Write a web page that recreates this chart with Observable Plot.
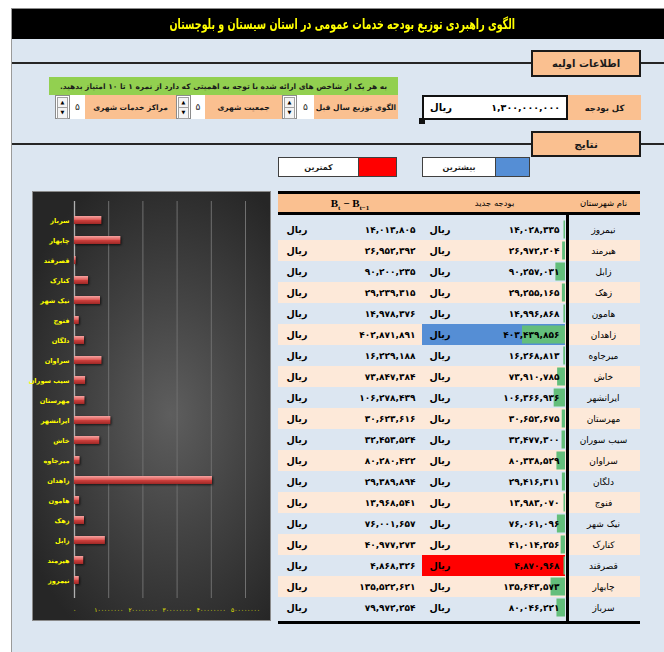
<!DOCTYPE html>
<html><head><meta charset="utf-8">
<script src="https://cdn.jsdelivr.net/npm/d3@7"></script>
<script src="https://cdn.jsdelivr.net/npm/@observablehq/plot@0.6"></script>
<style>
html,body{margin:0;padding:0;background:#fff;}
body{width:664px;height:652px;position:relative;overflow:hidden;font-family:"DejaVu Sans",sans-serif;}
.a{position:absolute;box-sizing:border-box;}
.rtl{direction:rtl;}
.peach{background:#fac090;}
.cell{display:flex;align-items:center;justify-content:center;font-size:8.5px;font-weight:bold;color:#1a1a1a;white-space:nowrap;}
.spin{background:#fff;border:1px solid #8c8c8c;}
.spin div{position:absolute;left:1px;right:1px;height:10px;border:1px solid #a0a0a0;font-size:5px;line-height:9px;text-align:center;color:#000;background:#f4f4f4;}
#chartbox svg g[aria-label^="x-axis"] text{font-size:6px;letter-spacing:-0.5px;fill:#e8e800;}
#chartbox svg g[aria-label^="y-axis"] text{font-size:6.6px;font-weight:bold;fill:#ffff00;}
</style></head><body>
<div class="a" style="left:11px;top:8px;width:653px;height:644px;background:#dce6f1;border-left:1px solid #9a9a9a;border-top:1px solid #8c8c8c;"></div>
<div class="a" style="left:12px;top:9px;width:652px;height:30px;background:#000;"></div>
<div class="a rtl" id="title" style="left:95px;top:9px;width:500px;height:30px;line-height:30px;text-align:center;color:#ffff00;font-weight:bold;font-size:14px;transform:scaleX(0.68);transform-origin:250px 50%;white-space:nowrap;"></div>

<div class="a" style="left:12px;top:62px;width:652px;height:2px;background:#262626;"></div>
<div class="a peach cell rtl" id="box1" style="left:531px;top:50px;width:110px;height:27px;border:2px solid #1a1a1a;font-size:10px;"></div>

<div class="a cell rtl" id="hint" style="left:49px;top:77px;width:349px;height:18px;background:#92d050;font-size:7.5px;"></div>
<div id="weights"></div>

<div class="a peach cell rtl" id="budgetLbl" style="left:568px;top:95px;width:73px;height:25px;"></div>
<div class="a" style="left:422px;top:95px;width:146px;height:25px;background:#fff;border:2.5px solid #111;"></div>
<div class="a rtl" id="rial0" style="left:430px;top:95px;height:25px;line-height:25px;font-size:10px;font-weight:bold;"></div>
<div class="a" id="budgetVal" style="left:450px;top:95px;width:110px;height:25px;line-height:25px;font-size:9.5px;font-weight:bold;text-align:right;"></div>
<div class="a" style="left:419px;top:118px;width:6px;height:6px;background:#111;"></div>

<div class="a" style="left:12px;top:143px;width:652px;height:2px;background:#262626;"></div>
<div class="a peach cell rtl" id="box2" style="left:531px;top:131px;width:110px;height:26px;border:2px solid #1a1a1a;font-size:10.5px;"></div>

<div class="a cell rtl" id="legMax" style="left:422px;top:157px;width:74px;height:20px;background:#fff;border:1px solid #404040;font-size:8px;"></div>
<div class="a" style="left:495px;top:157px;width:35px;height:20px;background:#558ed5;border:1px solid #404040;"></div>
<div class="a cell rtl" id="legMin" style="left:278px;top:157px;width:81px;height:20px;background:#fff;border:1px solid #404040;font-size:8px;"></div>
<div class="a" style="left:358px;top:157px;width:39px;height:20px;background:#ff0000;border:1px solid #404040;"></div>

<div class="a" id="chartbox" style="left:32px;top:191px;width:239px;height:430px;border:1px solid #8a8a8a;background:radial-gradient(ellipse 70% 60% at 58% 52%, #5e5e5e 0%, #444 45%, #262626 100%);"></div>

<div class="a peach" id="thead" style="left:278px;top:191px;width:362px;height:24px;border-top:3px solid #000;border-bottom:3px solid #000;"></div>
<div class="a" id="tbody" style="left:278px;top:215px;width:362px;height:406px;"></div>
<div class="a" style="left:566px;top:213px;width:3px;height:410px;background:#000;"></div>
<div class="a" style="left:278px;top:621px;width:362px;height:3px;background:#000;"></div>

<script>
// ---------- data ----------
const titleText = "الگوی راهبردی توزیع بودجه خدمات عمومی در استان سیستان و بلوچستان";
const sectionInput = "اطلاعات اولیه";
const sectionResults = "نتایج";
const hintText = "به هر یک از شاخص های ارائه شده با توجه به اهمیتی که دارد از نمره ۱ تا ۱۰ امتیاز بدهید.";
const budgetLabel = "کل بودجه";
const totalBudget = 1300000000;
const currency = "ریال";
const weightLabels = ["الگوی توزیع سال قبل", "جمعیت شهری", "مراکز خدمات شهری"];
const weightValues = [5, 5, 5];
const legendMax = "بیشترین";
const legendMin = "کمترین";
const headerNames = "نام شهرستان";
const headerBudget = "بودجه جدید";

const counties = ["نیمروز","هیرمند","زابل","زهک","هامون","زاهدان","میرجاوه","خاش","ایرانشهر","مهرستان","سیب سوران","سراوان","دلگان","فنوج","نیک شهر","کنارک","قصرقند","چابهار","سرباز"];
const newBudget = [14028335,26972204,90257031,29255165,14996868,403439856,16268813,73910785,106366936,30652675,32477300,80338529,29416311,13983070,76061096,41014256,4870968,135643573,80046221];
const budgetDiff = [14013805,26952392,90200235,29239315,14978376,402871891,16229188,73847384,106278439,30623616,32453524,80280422,29389894,13968541,76001657,40977273,4868326,135522621,79972254];
const chartTicks = [0,100000000,200000000,300000000,400000000,500000000];

// ---------- helpers ----------
const faDigits = "۰۱۲۳۴۵۶۷۸۹";
const fa = s => String(s).replace(/\d/g, d => faDigits[d]);
const fmt = v => fa(d3.format(",")(v));

// ---------- static texts ----------
document.getElementById("title").textContent = titleText;
document.getElementById("box1").textContent = sectionInput;
document.getElementById("box2").textContent = sectionResults;
document.getElementById("hint").textContent = hintText;
document.getElementById("budgetLbl").textContent = budgetLabel;
document.getElementById("rial0").textContent = currency;
document.getElementById("budgetVal").textContent = fmt(totalBudget);
document.getElementById("legMax").textContent = legendMax;
document.getElementById("legMin").textContent = legendMin;

// weight controls (layout: label cell, value cell, spinner)
const wLayout = [{lab:[314,84], val:[297,17], sp:[282,15]}, {lab:[205,77], val:[191,14], sp:[176,15]}, {lab:[85,91], val:[70,15], sp:[55,15]}];
const wHost = document.getElementById("weights");
wLayout.forEach((L, i) => {
  wHost.insertAdjacentHTML("beforeend",
    `<div class="a peach cell rtl" style="left:${L.lab[0]}px;top:95px;width:${L.lab[1]}px;height:24px;font-size:7.5px;">${weightLabels[i]}</div>` +
    `<div class="a cell" style="left:${L.val[0]}px;top:95px;width:${L.val[1]}px;height:24px;background:#fff;font-size:9px;font-weight:normal;">${fa(weightValues[i])}</div>` +
    `<div class="a spin" style="left:${L.sp[0]}px;top:95px;width:${L.sp[1]}px;height:24px;"><div style="top:1px">▲</div><div style="top:11px">▼</div></div>`);
});

// table header
document.getElementById("thead").innerHTML =
  `<div class="a" style="left:0;top:0;width:144px;height:18px;line-height:18px;text-align:center;font-family:'Liberation Serif',serif;font-weight:bold;font-size:11px;">B<sub style="font-size:7px">t</sub> − B<sub style="font-size:7px">t−1</sub></div>` +
  `<div class="a rtl" style="left:144px;top:0;width:145px;height:18px;line-height:18px;text-align:center;font-size:8.5px;">${headerBudget}</div>` +
  `<div class="a rtl" style="left:289px;top:0;width:73px;height:18px;line-height:18px;text-align:center;font-size:8.5px;">${headerNames}</div>`;

// ---------- table (Plot) ----------
const rows = counties.map((name, i) => ({name, budget: newBudget[i], diff: budgetDiff[i], idx: i}));
const maxB = d3.max(newBudget), minB = d3.min(newBudget);
const barLen = d3.scaleLinear().domain([0, maxB]).range([0, 43]);
const colEnd = 287;
const table = Plot.plot({
  width: 362, height: 406, margin: 0,
  x: {domain: [0, 362], range: [0, 362], axis: null},
  y: {domain: counties, padding: 0, axis: null},
  color: {type: "identity"},
  style: {fontFamily: "DejaVu Sans", background: "transparent", color: "#000"},
  marks: [
    Plot.barX(rows, {x1: 0, x2: 362, y: "name", fill: d => d.idx % 2 ? "#fde9d9" : "#dce6f1"}),
    Plot.barX(rows.filter(d => d.budget === maxB), {x1: 144, x2: colEnd, y: "name", fill: "#558ed5"}),
    Plot.barX(rows.filter(d => d.budget === minB), {x1: 144, x2: colEnd, y: "name", fill: "#ff0000"}),
    Plot.barX(rows, {x1: d => colEnd - Math.max(1.5, barLen(d.budget)), x2: colEnd, y: "name", fill: "#63be7b", insetTop: 1.5, insetBottom: 1.5}),
    Plot.text(rows, {x: 137, y: "name", text: d => fmt(d.diff), textAnchor: "end", fontSize: 9, fontWeight: "bold"}),
    Plot.text(rows, {x: 8, y: "name", text: () => currency, textAnchor: "start", fontSize: 9.5, fontWeight: "bold"}),
    Plot.text(rows, {x: 151, y: "name", text: () => currency, textAnchor: "start", fontSize: 9.5, fontWeight: "bold"}),
    Plot.text(rows, {x: 281, y: "name", text: d => fmt(d.budget), textAnchor: "end", fontSize: 9, fontWeight: "bold"}),
    Plot.text(rows, {x: 325, y: "name", text: "name", textAnchor: "middle", fontSize: 9})
  ]
});
document.getElementById("tbody").appendChild(table);

// ---------- bar chart (Plot) ----------
const chartOrder = counties.slice().reverse();
const chartData = chartOrder.map(name => ({name, value: newBudget[counties.indexOf(name)]}));
const chart = Plot.plot({
  width: 237, height: 428,
  marginLeft: 41, marginRight: 25, marginTop: 9, marginBottom: 22,
  x: {domain: [0, 500000000], ticks: chartTicks, tickFormat: d => fa(d), tickSize: 0, tickPadding: 9, label: null},
  y: {domain: chartOrder, padding: 0, tickSize: 0, tickPadding: 5, label: null},
  style: {fontFamily: "DejaVu Sans", background: "transparent", color: "#ffff00", overflow: "visible"},
  marks: [
    Plot.ruleX(chartTicks.slice(1), {stroke: "#707070", strokeWidth: 1}),
    Plot.ruleX([0], {stroke: "#b0b0b0", strokeWidth: 1.3}),
    Plot.barX(chartData, {x: "value", y: "name", fill: "url(#barGrad)", insetTop: 6, insetBottom: 6})
  ]
});
const ns = "http://www.w3.org/2000/svg";
const defs = document.createElementNS(ns, "defs");
defs.innerHTML = `<linearGradient id="barGrad" x1="0" y1="0" x2="0" y2="1">
  <stop offset="0" stop-color="#f6a3a1"/><stop offset="0.45" stop-color="#e0605d"/>
  <stop offset="0.55" stop-color="#cc3f3c"/><stop offset="1" stop-color="#9e2826"/></linearGradient>`;
chart.insertBefore(defs, chart.firstChild);
chart.querySelectorAll('g[aria-label="bar"] rect').forEach(r => r.style.filter = "drop-shadow(1px 1.5px 1px rgba(0,0,0,0.7))");
document.getElementById("chartbox").appendChild(chart);
</script>
</body></html>
